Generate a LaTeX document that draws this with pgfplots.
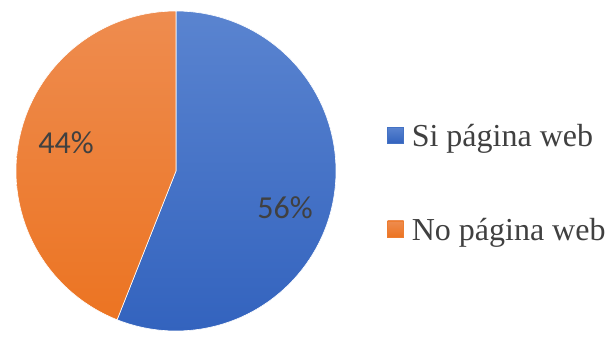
\documentclass[border=0pt]{standalone}
\usepackage{fontspec}
\setmainfont{Liberation Serif}
\newfontfamily\calibri{Carlito}
\usepackage{pgfplots}
\pgfplotsset{compat=1.18}
\definecolor{pieblue}{HTML}{4472C4}
\definecolor{pieblueT}{HTML}{5A84D0}
\definecolor{pieblueB}{HTML}{3363BE}
\definecolor{pieorange}{HTML}{ED7D31}
\definecolor{pieorangeT}{HTML}{EE8C4F}
\definecolor{pieorangeB}{HTML}{EC7422}
\definecolor{lbl}{HTML}{404040}
% slice values (percent)
\def\valSi{56}
\def\valNo{44}
\begin{document}
\begin{tikzpicture}
\begin{axis}[hide axis, scale only axis, width=612pt, height=337pt,
  xmin=0, xmax=612, ymin=0, ymax=337, clip=false,
  legend style={draw=none, fill=none, at={(axis cs:387,154)}, anchor=west,
    font=\fontsize{32}{37}\selectfont, text=lbl, row sep=66pt,
    inner sep=0pt, nodes={inner xsep=2pt}},
  legend cell align=left]
\path (axis cs:0,0) rectangle (axis cs:612,337);
\addplot[top color=pieblueT, bottom color=pieblueB, draw=white, line width=0.6pt,
  domain=0:\valSi*3.6, samples=120,
  legend image code/.code={\fill[pieblue] (0pt,-7pt) rectangle (16pt,9pt); \path (22pt,0pt);}]
  ({176+160*sin(x)}, {166+160*cos(x)}) -- (axis cs:176,166) -- cycle;
\addlegendentry{Si página web}
\addplot[top color=pieorangeT, bottom color=pieorangeB, draw=white, line width=0.6pt,
  domain=\valSi*3.6:360, samples=100,
  legend image code/.code={\fill[pieorange] (0pt,-7pt) rectangle (16pt,9pt); \path (22pt,0pt);}]
  ({176+160*sin(x)}, {166+160*cos(x)}) -- (axis cs:176,166) -- cycle;
\addlegendentry{No página web}
\node[text=lbl, font=\calibri\fontsize{32}{38}\selectfont] at (axis cs:66,194) {44\%};
\node[text=lbl, font=\calibri\fontsize{32}{38}\selectfont] at (axis cs:285,129) {56\%};
\end{axis}
\end{tikzpicture}
\end{document}
